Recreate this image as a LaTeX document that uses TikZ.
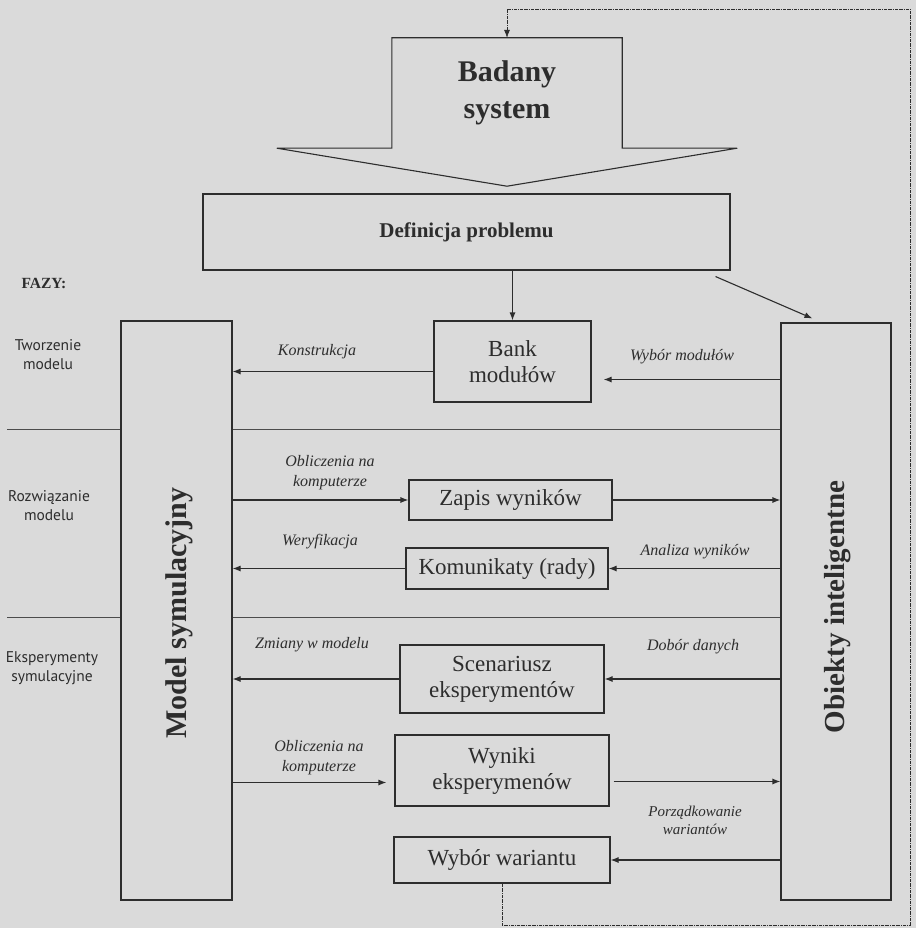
\documentclass[tikz,border=0pt]{standalone}
\usepackage{fontspec}
\setmainfont{Liberation Serif}
\newfontfamily\fazyfont{PT Sans}
\usetikzlibrary{positioning,arrows.meta,calc}

\definecolor{paper}{RGB}{218,218,218}
\definecolor{ink}{RGB}{45,45,45}

\begin{document}
\begin{tikzpicture}
  [x=1pt,y=-1pt,
   outline/.style={draw=ink,line width=1.1pt},
   box/.style={outline,inner sep=0pt,align=center,text=ink,font=\fontsize{23}{26}\selectfont},
   big/.style={text=ink,align=center,font=\bfseries\fontsize{30}{37}\selectfont},
   lbl/.style={text=ink,align=center,font=\itshape\fontsize{16}{20}\selectfont},
   faza/.style={text=ink,align=center,font=\fazyfont\fontsize{15.5}{19}\selectfont},
   arr/.style={draw=ink,line width=1.1pt,-{Latex[length=8pt,width=6pt]}},
   sep/.style={draw=ink!85,line width=0.7pt},
   back/.style={draw=ink,line width=0.6pt,densely dashdotted,-{Latex[length=8pt,width=6pt]}}]

  \fill[paper] (0,0) rectangle (916,928);
  \useasboundingbox (0,0) rectangle (916,928);

  % system and problem
  \node[big,minimum width=230pt,minimum height=110pt] (badany) at (507,93) {Badany\\system};
  \draw[outline] (badany.north west) -- (badany.north east) -- (badany.south east)
    -- ++(115,0) -- ($(badany.south)+(0,38)$) -- ($(badany.south west)+(-115,0)$)
    -- (badany.south west) -- cycle;
  \node[box,font=\bfseries\fontsize{21}{24}\selectfont,minimum width=527pt,minimum height=76pt] (problem) at (466.5,232) {Definicja problemu};

  % the two columns
  \node[outline,minimum width=111pt,minimum height=579pt] (model) at (176.5,610.5) {};
  \node[big,rotate=90] (modeltxt) at (179,613) {Model symulacyjny};
  \node[outline,minimum width=110pt,minimum height=577pt] (obiekty) at (836,611.5) {};
  \node[big,rotate=90,font=\bfseries\fontsize{29}{35}\selectfont] (obiektytxt) at (838,607) {Obiekty inteligentne};

  % middle boxes
  \node[box,minimum width=157pt,minimum height=81pt] (bank) at (512.5,361.5) {Bank\\modułów};
  \node[box,minimum width=203pt,minimum height=40pt] (zapis) at (510.5,500) {Zapis wyników};
  \node[box,minimum width=202pt,minimum height=41pt] (komunikaty) at (507,568.5) {Komunikaty (rady)};
  \node[box,minimum width=204pt,minimum height=68pt] (scenariusz) at (502,679) {Scenariusz\\eksperymentów};
  \node[box,minimum width=214pt,minimum height=71pt] (wyniki) at (502,770.5) {Wyniki\\eksperymenów};
  \node[box,minimum width=216pt,minimum height=46pt] (wybor) at (502,860) {Wybór wariantu};

  % phases
  \node[text=ink,font=\bfseries\fontsize{15.5}{18}\selectfont] (fazy) at (44,283) {FAZY:};
  \node[faza] (f1) at (48,355) {Tworzenie\\modelu};
  \node[faza] (f2) at (49,506) {Rozwiązanie\\modelu};
  \node[faza] (f3) at (52,668) {Eksperymenty\\symulacyjne};
  \foreach \y in {429,617} {
    \draw[sep] (7,\y) -- (model.west |- 0,\y);
    \draw[sep] (model.east |- 0,\y) -- (obiekty.west |- 0,\y);
  }

  % connectors
  \draw[arr] (bank.north |- problem.south) -- (bank.north);
  \draw[arr] ($(problem.south east)+(-15,6)$) -- ($(obiekty.north west)+(32,-4)$);

  \coordinate (kon) at ($(bank.west)+(0,10)$);
  \draw[arr] (kon) -- (kon -| model.east);
  \coordinate (mod) at ($(bank.east)+(12,18)$);
  \draw[arr] (mod -| obiekty.west) -- (mod);
  \draw[arr] (model.east |- zapis.west) -- (zapis.west);
  \draw[arr] (zapis.east) -- (zapis.east -| obiekty.west);
  \draw[arr] (komunikaty.west) -- (komunikaty.west -| model.east);
  \draw[arr] (obiekty.west |- komunikaty.east) -- (komunikaty.east);
  \draw[arr] (scenariusz.west) -- (scenariusz.west -| model.east);
  \draw[arr] (obiekty.west |- scenariusz.east) -- (scenariusz.east);
  \coordinate (obl) at ($(wyniki.west)+(-8,12)$);
  \draw[arr] (obl -| model.east) -- (obl);
  \coordinate (wyn) at ($(wyniki.east)+(4,11)$);
  \draw[arr] (wyn) -- (wyn -| obiekty.west);
  \draw[arr] (obiekty.west |- wybor.east) -- (wybor.east);

  % labels on the connectors
  \node[lbl] (l1) at (317,352) {Konstrukcja};
  \node[lbl] (l2) at (682,357) {Wybór modułów};
  \node[lbl] (l3) at (330,473) {Obliczenia na\\komputerze};
  \node[lbl] (l4) at (320,542) {Weryfikacja};
  \node[lbl] (l5) at (695,552) {Analiza wyników};
  \node[lbl] (l6) at (312,645) {Zmiany w modelu};
  \node[lbl] (l7) at (693,647) {Dobór danych};
  \node[lbl] (l8) at (319,758) {Obliczenia na\\komputerze};
  \node[lbl,font=\itshape\fontsize{15}{18}\selectfont] (l9) at (695,820) {Porządkowanie\\wariantów};

  % feedback loop
  \coordinate (p1) at (910,925);
  \coordinate (p2) at (910,9);
  \draw[back] (wybor.south) |- (p1) -- (p2) -| (badany.north);
\end{tikzpicture}
\end{document}
